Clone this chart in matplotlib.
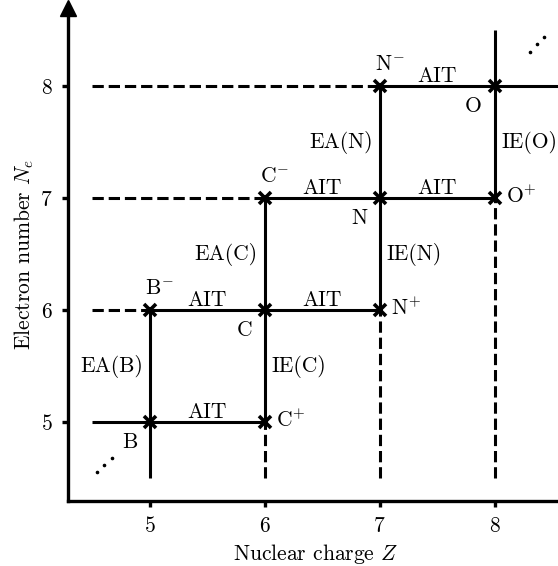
import matplotlib
matplotlib.use("Agg")
import matplotlib.pyplot as plt

plt.rcParams['font.family'] = 'serif'
plt.rcParams['font.serif'] = ['cmr10', 'DejaVu Serif']
plt.rcParams['mathtext.fontset'] = 'cm'
plt.rcParams['axes.unicode_minus'] = False
plt.rcParams['axes.formatter.use_mathtext'] = True

# ---- data ----
elements = ['B', 'C', 'N', 'O']
Z_values = [5, 6, 7, 8]
Ne_ticks = [5, 6, 7, 8]
Z_ticks = [5, 6, 7, 8]

species_labels = ['B', 'B$^{-}$', 'C$^{+}$', 'C', 'C$^{-}$',
                  'N$^{+}$', 'N', 'N$^{-}$', 'O$^{+}$', 'O']
species_Z = [5, 5, 6, 6, 6, 7, 7, 7, 8, 8]
species_Ne = [5, 6, 5, 6, 7, 6, 7, 8, 7, 8]
species_kind = ['neutral', 'anion', 'cation', 'neutral', 'anion',
                'cation', 'neutral', 'anion', 'cation', 'neutral']

ea_labels = ['EA(B)', 'EA(C)', 'EA(N)']
ea_Z = [5, 6, 7]
ie_labels = ['IE(C)', 'IE(N)', 'IE(O)']
ie_Z = [6, 7, 8]
ait_label = 'AIT'

# continuation dots (diagonal ellipsis) at both ends of the chain
dots_low_Z = [4.54, 4.605, 4.67]
dots_low_Ne = [4.555, 4.62, 4.68]
dots_high_Z = [8.31, 8.37, 8.43]
dots_high_Ne = [8.30, 8.375, 8.44]

xlim = (4.288, 8.6)
ylim = (4.295, 8.696)
start = 4.5

fig = plt.figure(figsize=(5.58, 5.66), dpi=100)
ax = fig.add_axes([68/558, 65/566, 1 - 68/558 + 0.01, (566 - 65 - 8)/566])
ax.set_xlim(*xlim)
ax.set_ylim(*ylim)

lw = 2.2
kw = dict(color='black', lw=lw, solid_capstyle='butt', dash_capstyle='butt')

# vertical lines for each Z
for z in Z_values:
    nes = [n for zz, n in zip(species_Z, species_Ne) if zz == z]
    lo, hi = min(nes), max(nes)
    if z == min(Z_values):
        ax.plot([z, z], [start, hi], **kw)
    else:
        ax.plot([z, z], [start, lo], ls='--', **kw)
        top = 8.5 if z == max(Z_values) else hi
        ax.plot([z, z], [lo, top], **kw)

# horizontal lines for each Ne
for n in Ne_ticks:
    zs = [z for z, nn in zip(species_Z, species_Ne) if nn == n]
    lo, hi = min(zs), max(zs)
    if n == min(Ne_ticks):
        ax.plot([start, hi], [n, n], **kw)
    else:
        ax.plot([start, lo], [n, n], ls='--', **kw)
        right = xlim[1] + 0.1 if n == max(Ne_ticks) else hi
        ax.plot([lo, right], [n, n], clip_on=False, **kw)

# markers
ax.plot(species_Z, species_Ne, ls='none', marker='x', ms=9, mew=2.6,
        color='black', zorder=5)

fs = 15.5
for lab, z, n, kind in zip(species_labels, species_Z, species_Ne, species_kind):
    if kind == 'neutral':
        ax.text(z - 0.11, n - 0.23, lab, ha='right', va='baseline', fontsize=fs)
    elif kind == 'anion':
        ax.text(z - 0.04, n + 0.14, lab, ha='left', va='baseline', fontsize=fs)
    else:
        ax.text(z + 0.1, n - 0.045, lab, ha='left', va='baseline', fontsize=fs)

# AIT labels on horizontal steps between species
for n in Ne_ticks:
    zs = sorted(z for z, nn in zip(species_Z, species_Ne) if nn == n)
    for a, b in zip(zs[:-1], zs[1:]):
        ax.text((a + b) / 2, n + 0.035, ait_label, ha='center', va='baseline', fontsize=fs)

for lab, z in zip(ea_labels, ea_Z):
    ax.text(z - 0.06, z + 0.45, lab, ha='right', va='baseline', fontsize=fs)
for lab, z in zip(ie_labels, ie_Z):
    ax.text(z + 0.06, z - 0.55, lab, ha='left', va='baseline', fontsize=fs)

ax.plot(dots_low_Z, dots_low_Ne, ls='none', marker='o', ms=1.6, color='black')
ax.plot(dots_high_Z, dots_high_Ne, ls='none', marker='o', ms=1.6, color='black')

for s in ['top', 'right']:
    ax.spines[s].set_visible(False)
for s in ['left', 'bottom']:
    ax.spines[s].set_linewidth(2.4)
ax.plot([0], [1], marker='^', ms=11, color='black', transform=ax.transAxes,
        clip_on=False, zorder=6)

ax.set_xticks(Z_ticks)
ax.set_yticks(Ne_ticks)
ax.tick_params(direction='out', length=4, width=2.4, labelsize=fs, pad=7)
ax.set_xlabel(r'Nuclear charge $Z$', fontsize=fs, labelpad=4)
ax.set_ylabel(r'Electron number $N_e$', fontsize=fs, labelpad=3)

fig.savefig('out.png', dpi=100)
